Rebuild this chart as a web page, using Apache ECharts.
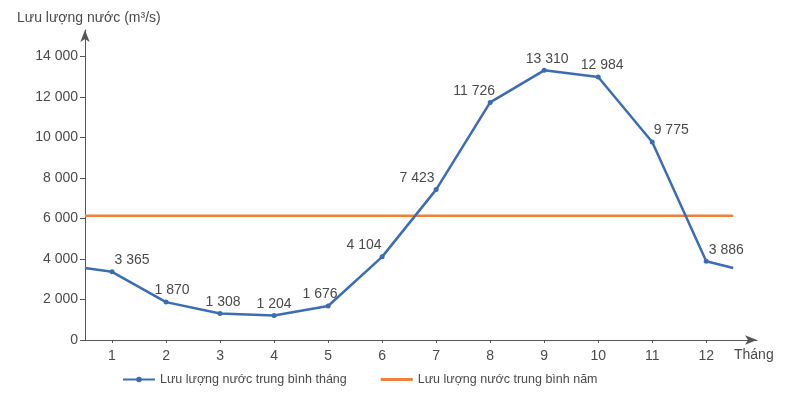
<!DOCTYPE html>
<html>
<head>
<meta charset="utf-8">
<script src="https://cdn.jsdelivr.net/npm/echarts@6/dist/echarts.min.js"></script>
<style>
  html, body { margin: 0; padding: 0; background: #fff; }
  #chart { width: 787px; height: 400px; }
</style>
</head>
<body>
<div id="chart"></div>
<script>
// months on the x axis
var months = [1, 2, 3, 4, 5, 6, 7, 8, 9, 10, 11, 12];
// monthly mean discharge (m3/s)
var monthlyFlow = [3365, 1870, 1308, 1204, 1676, 4104, 7423, 11726, 13310, 12984, 9775, 3886];
// the curve runs on past the first and last month to the plot edges
var edgeX = [0.5, 12.5];
var edgeFlow = [3550, 3550];
// yearly mean discharge (horizontal line)
var yearlyFlow = 6130;
var yTicks = [0, 2000, 4000, 6000, 8000, 10000, 12000, 14000];

var seriesNames = ['Lưu lượng nước trung bình tháng', 'Lưu lượng nước trung bình năm'];

function fmt(v) {
    return String(v).replace(/\B(?=(\d{3})+(?!\d))/g, ' ');
}

// horizontal nudge of each month's value label (px)
var labelShift = [20, 6, 3, 0, -8, -18, -19, -16, 3, 4, 19, 20];

var lineData = [{value: [edgeX[0], edgeFlow[0]], symbol: 'none', label: {show: false}}];
months.forEach(function (m, i) {
    lineData.push({value: [m, monthlyFlow[i]], label: {offset: [labelShift[i], 0]}});
});
lineData.push({value: [edgeX[1], edgeFlow[1]], symbol: 'none', label: {show: false}});

var textColor = '#4a4a4a';
var axisColor = '#555';
var fontSize = 14;

var myChart = echarts.init(document.getElementById('chart'));

var option = {
    animation: false,
    textStyle: {fontFamily: 'Liberation Sans, Arial, sans-serif'},
    title: [{
        text: 'Lưu lượng nước (m³/s)',
        left: 12,
        top: 6,
        textStyle: {fontSize: fontSize, fontWeight: 'normal', color: textColor}
    }, {
        text: 'Tháng',
        left: 729,
        top: 343,
        textStyle: {fontSize: fontSize, fontWeight: 'normal', color: textColor}
    }],
    grid: {left: 85, right: 30, top: 30, bottom: 60},
    legend: {
        bottom: 9,
        left: 117,
        itemGap: 34,
        itemWidth: 32,
        itemHeight: 7,
        textStyle: {fontSize: 12.5, color: textColor},
        data: [
            {name: seriesNames[0]},
            {name: seriesNames[1], icon: 'path://M0,0 L32,0 L32,3 L0,3 Z'}
        ]
    },
    xAxis: {
        type: 'value',
        min: 0.5,
        max: 12.94,
        splitLine: {show: false},
        axisLine: {
            lineStyle: {color: axisColor, width: 1},
            symbol: ['none', 'arrow'],
            symbolSize: [7, 12]
        },
        axisTick: {
            customValues: months,
            length: 3,
            lineStyle: {color: axisColor}
        },
        axisLabel: {
            customValues: months,
            fontSize: fontSize,
            color: textColor,
            margin: 9
        }
    },
    yAxis: {
        type: 'value',
        min: 0,
        max: 15300,
        splitLine: {show: false},
        axisLine: {
            show: true,
            lineStyle: {color: axisColor, width: 1},
            symbol: ['none', 'arrow'],
            symbolSize: [7, 12]
        },
        axisTick: {
            show: true,
            customValues: yTicks,
            length: 5,
            lineStyle: {color: axisColor}
        },
        axisLabel: {
            customValues: yTicks,
            fontSize: fontSize,
            color: textColor,
            margin: 7,
            formatter: function (v) { return fmt(v); }
        }
    },
    series: [{
        name: seriesNames[0],
        type: 'line',
        data: lineData,
        symbol: 'circle',
        symbolSize: 5,
        lineStyle: {color: '#3b6cb4', width: 2.5},
        itemStyle: {color: '#3b6cb4'},
        label: {
            show: true,
            position: 'top',
            distance: 2,
            fontSize: fontSize,
            color: textColor,
            formatter: function (p) { return fmt(p.value[1]); }
        },
        z: 3
    }, {
        name: seriesNames[1],
        type: 'line',
        data: [[edgeX[0], yearlyFlow], [edgeX[1], yearlyFlow]],
        symbol: 'none',
        lineStyle: {color: '#f0813a', width: 2.5},
        itemStyle: {color: '#f0813a'},
        z: 2
    }]
};

myChart.setOption(option);
</script>
</body>
</html>
